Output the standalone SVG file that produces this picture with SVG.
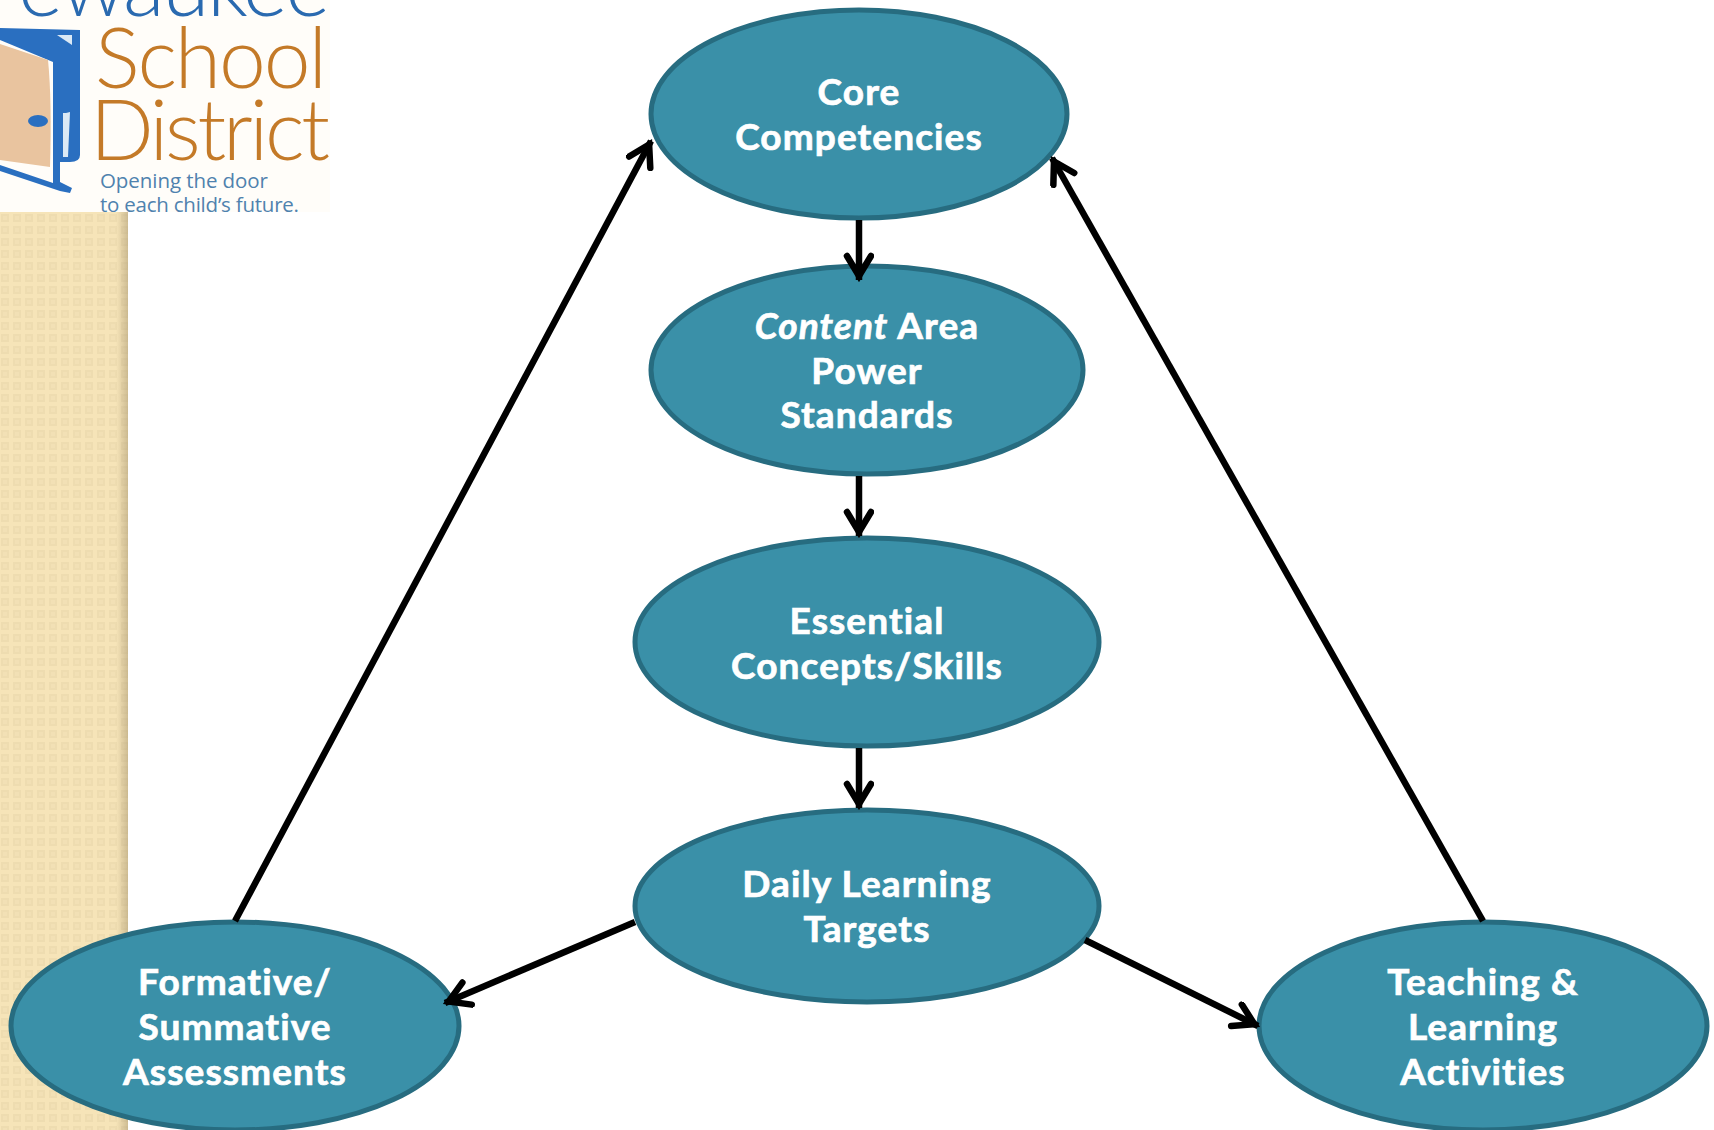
<svg xmlns="http://www.w3.org/2000/svg" width="1714" height="1130" viewBox="0 0 1714 1130">
<style>
.node{fill:#3a90a8;stroke:#276c80;stroke-width:5}
.label{font-family:"Lato","Noto Sans",sans-serif;font-weight:700;font-size:37px;letter-spacing:1.1px;fill:#fff;stroke:#fff;stroke-width:.7;text-anchor:middle;font-variant-ligatures:none}
.conn{fill:none;stroke:#000;stroke-width:6.5;marker-end:url(#arrow)}
.brown{font-family:"Lato","Open Sans",sans-serif;font-weight:300;fill:#c47a28}
.blue{font-family:"Lato","Open Sans",sans-serif;font-weight:300;fill:#2a6ab0}
.tag{font-family:"Open Sans","Lato",sans-serif;font-weight:400;font-size:20.5px;fill:#4f82ae}
</style>
<defs>
<pattern id="dots" width="12" height="12" patternUnits="userSpaceOnUse" x="0" y="213">
<rect width="12" height="12" fill="#f6e4b8"/>
<rect x="1" y="1" width="8" height="8" fill="#eedcb0"/>
<rect x="3" y="3" width="4" height="4" fill="#f2e0b5"/>
</pattern>
<linearGradient id="edge" x1="0" x2="1" y1="0" y2="0">
<stop offset="0" stop-color="#a8966e" stop-opacity="0"/>
<stop offset="1" stop-color="#a8966e" stop-opacity=".5"/>
</linearGradient>
<marker id="arrow" markerUnits="userSpaceOnUse" markerWidth="40" markerHeight="40" refX="29" refY="15" orient="auto" viewBox="0 0 40 40">
<path d="M5 3 L25 15 L5 27" fill="none" stroke="#000" stroke-width="6.5" stroke-linecap="round" stroke-linejoin="miter"/>
</marker>
<clipPath id="logoClip"><rect x="0" y="0" width="330" height="212"/></clipPath>
</defs>
<rect width="1714" height="1130" fill="#fff"/>
<rect x="0" y="212" width="128" height="918" fill="url(#dots)"/>
<rect x="116" y="212" width="12" height="918" fill="url(#edge)"/>
<g id="logo" clip-path="url(#logoClip)">
<rect width="330" height="212" fill="#fffdf9"/>
<text class="blue" x="18" y="16" font-size="86" textLength="312">ewaukee</text>
<text class="brown" x="95" y="88" font-size="84" textLength="232">School</text>
<text class="brown" x="90" y="160" font-size="84" textLength="240">District</text>
<path d="M0 28 L80 30 L80 155 Q80 162 70 162 L60 162 L60 182 L72 188 L70 193 L60 191 L0 171 L0 165 L53 183 L53 62 L0 40Z" fill="#2a6fc0"/>
<path d="M0 44 L48 60 Q52 100 50 167 L0 160Z" fill="#e9c49f"/>
<ellipse cx="38" cy="121" rx="10" ry="6" fill="#2a6fc0"/>
<path d="M63 113 L66 113 L70 112 L68 157 L63 157Z M57 35 L72 35 L72 45Z" fill="#dbe9f5"/>
<text class="tag" x="100" y="188" textLength="168">Opening the door</text>
<text class="tag" x="100" y="212" textLength="199">to each child’s future.</text>
</g>
<g id="core"><ellipse class="node" cx="859" cy="114" rx="208" ry="104"/>
<text class="label" x="859" y="105">Core</text><text class="label" x="859" y="150">Competencies</text></g>
<g id="content"><ellipse class="node" cx="867" cy="370" rx="216" ry="104"/>
<text class="label" x="867" y="339"><tspan font-style="italic">Content</tspan> Area</text><text class="label" x="867" y="384">Power</text><text class="label" x="867" y="428">Standards</text></g>
<g id="essential"><ellipse class="node" cx="867" cy="642" rx="232" ry="104"/>
<text class="label" x="867" y="634">Essential</text><text class="label" x="867" y="679">Concepts/Skills</text></g>
<g id="daily"><ellipse class="node" cx="867" cy="906" rx="232" ry="96"/>
<text class="label" x="867" y="897">Daily Learning</text><text class="label" x="867" y="942">Targets</text></g>
<g id="formative"><ellipse class="node" cx="235" cy="1026" rx="224" ry="104"/>
<text class="label" x="235" y="995">Formative/</text><text class="label" x="235" y="1040">Summative</text><text class="label" x="235" y="1085">Assessments</text></g>
<g id="teaching"><ellipse class="node" cx="1483" cy="1026" rx="224" ry="104"/>
<text class="label" x="1483" y="995">Teaching &amp;</text><text class="label" x="1483" y="1040">Learning</text><text class="label" x="1483" y="1085">Activities</text></g>
<g id="connectors">
<line class="conn" x1="859" y1="220" x2="859" y2="280"/>
<line class="conn" x1="859" y1="476" x2="859" y2="536"/>
<line class="conn" x1="859" y1="748" x2="859" y2="808"/>
<line class="conn" x1="635" y1="922" x2="445" y2="1003"/>
<line class="conn" x1="1085" y1="940" x2="1258" y2="1026"/>
<line class="conn" x1="235" y1="921" x2="651" y2="141"/>
<line class="conn" x1="1483" y1="921" x2="1052" y2="158"/>
</g>
</svg>
